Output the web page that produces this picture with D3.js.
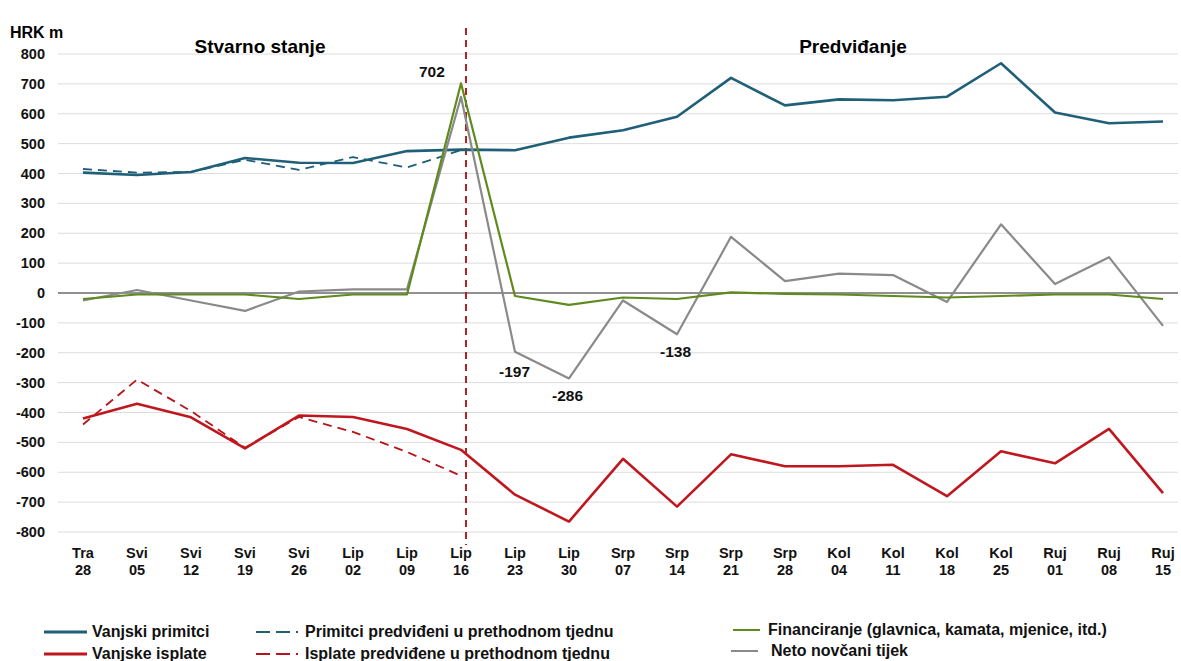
<!DOCTYPE html>
<html><head><meta charset="utf-8">
<script src="https://cdn.jsdelivr.net/npm/d3@7"></script>
<style>
body{margin:0;background:#fff;}
text{font-family:"Liberation Sans",Arial,sans-serif;}
</style></head><body>
<svg id="c" width="1181" height="661"></svg>
<script>
const monthLabels = ["Tra","Svi","Svi","Svi","Svi","Lip","Lip","Lip","Lip","Lip","Srp","Srp","Srp","Srp","Kol","Kol","Kol","Kol","Ruj","Ruj","Ruj"];
const dayLabels   = ["28","05","12","19","26","02","09","16","23","30","07","14","21","28","04","11","18","25","01","08","15"];
const yTicks = [800,700,600,500,400,300,200,100,0,-100,-200,-300,-400,-500,-600,-700,-800];

const receipts = [403,395,405,452,436,435,475,480,478,520,545,590,720,628,648,645,657,769,604,568,574];
const receiptsPrev = [415,403,405,446,412,455,420,478];
const payments = [-420,-371,-416,-520,-410,-415,-455,-525,-675,-765,-555,-715,-540,-580,-580,-575,-680,-530,-570,-455,-670];
const paymentsPrev = [-440,-290,-395,-518,-415,-465,-532,-612];
const financing = [-20,-5,-5,-5,-20,-5,-5,702,-10,-40,-15,-20,2,-3,-5,-10,-15,-10,-5,-5,-20];
const netFlow = [-25,10,-25,-60,5,12,12,657,-197,-286,-25,-138,188,40,65,60,-30,230,30,120,-110];

const labels = [{i:7,v:702,t:"702",dx:-42,dy:-6},{i:8,v:-197,t:"-197",dx:-16,dy:25},{i:9,v:-286,t:"-286",dx:-17,dy:23},{i:11,v:-138,t:"-138",dx:-17,dy:23}];

const svg = d3.select("#c");
const idx = d3.range(monthLabels.length);
const x = d3.scalePoint().domain(idx).range([83,1163]);
const y = d3.scaleLinear().domain([-800,800]).range([532,54]);
const gx0 = 58, gx1 = 1178;

svg.append("g").selectAll("line").data(yTicks.filter(d=>d!==0)).join("line")
  .attr("x1",gx0).attr("x2",gx1).attr("y1",d=>y(d)).attr("y2",d=>y(d))
  .attr("stroke","#dcdcdc").attr("stroke-width",1);
svg.append("g").selectAll("text").data(yTicks).join("text")
  .attr("x",45).attr("y",d=>y(d)+5).attr("text-anchor","end")
  .attr("font-size",14.5).attr("font-weight","bold").attr("fill","#111").text(d=>d);
svg.append("line").attr("x1",gx0).attr("x2",gx1).attr("y1",y(0)).attr("y2",y(0)).attr("stroke","#222").attr("stroke-width",1);

const xl = svg.append("g").selectAll("text").data(idx).join("text")
  .attr("text-anchor","middle").attr("font-size",14.5).attr("font-weight","bold").attr("fill","#111");
xl.append("tspan").attr("x",i=>x(i)).attr("y",558).text(i=>monthLabels[i]);
xl.append("tspan").attr("x",i=>x(i)).attr("y",575).text(i=>dayLabels[i]);

const vx = x(7) + 5;
svg.append("line").attr("x1",vx).attr("x2",vx).attr("y1",28).attr("y2",545)
  .attr("stroke","#b22222").attr("stroke-width",2).attr("stroke-dasharray","7,5");

const line = d3.line().x((d,i)=>x(i)).y(d=>y(d));
function draw(data,color,w,dash){
  const p = svg.append("path").datum(data).attr("d",line).attr("fill","none")
    .attr("stroke",color).attr("stroke-width",w).attr("stroke-linejoin","round");
  if(dash) p.attr("stroke-dasharray",dash);
}
const cBlue="#1f5f78", cRed="#c0171f", cGreen="#5f8a1e", cGray="#8a8a8a";
draw(receiptsPrev,cBlue,1.8,"9,6");
draw(paymentsPrev,"#b5151b",1.8,"9,6");
draw(receipts,cBlue,2.6);
draw(payments,cRed,2.6);
draw(netFlow,cGray,2.2);
draw(financing,cGreen,2.2);

svg.append("g").selectAll("text").data(labels).join("text")
  .attr("x",d=>x(d.i)+d.dx).attr("y",d=>y(d.v)+d.dy).attr("text-anchor","start")
  .attr("font-size",15.5).attr("font-weight","bold").attr("fill","#111").text(d=>d.t);

svg.append("text").attr("x",10).attr("y",38).attr("font-size",16).attr("font-weight","bold").text("HRK m");
svg.append("text").attr("x",260).attr("y",53).attr("text-anchor","middle").attr("font-size",19).attr("font-weight","bold").text("Stvarno stanje");
svg.append("text").attr("x",853).attr("y",53).attr("text-anchor","middle").attr("font-size",19).attr("font-weight","bold").text("Predviđanje");

const legend = [
  {x1:44,x2:87,tx:92,y:632,c:cBlue,w:3,d:null,t:"Vanjski primitci"},
  {x1:44,x2:87,tx:92,y:654,c:cRed,w:3,d:null,t:"Vanjske isplate"},
  {x1:256,x2:298,tx:305,y:632,c:cBlue,w:2,d:"14,6",t:"Primitci predviđeni u prethodnom tjednu"},
  {x1:256,x2:298,tx:305,y:654,c:"#b5151b",w:2,d:"14,6",t:"Isplate predviđene u prethodnom tjednu"},
  {x1:733,x2:760,tx:768,y:630,c:cGreen,w:2,d:null,t:"Financiranje (glavnica, kamata, mjenice, itd.)"},
  {x1:731,x2:758,tx:771,y:651,c:cGray,w:2,d:null,t:"Neto novčani tijek"}
];
const lg = svg.append("g").selectAll("g").data(legend).join("g");
lg.append("line").attr("x1",d=>d.x1).attr("x2",d=>d.x2).attr("y1",d=>d.y).attr("y2",d=>d.y)
  .attr("stroke",d=>d.c).attr("stroke-width",d=>d.w).attr("stroke-dasharray",d=>d.d);
lg.append("text").attr("x",d=>d.tx).attr("y",d=>d.y+5).attr("font-size",16).attr("font-weight","bold").attr("fill","#111").text(d=>d.t);
</script></body></html>
